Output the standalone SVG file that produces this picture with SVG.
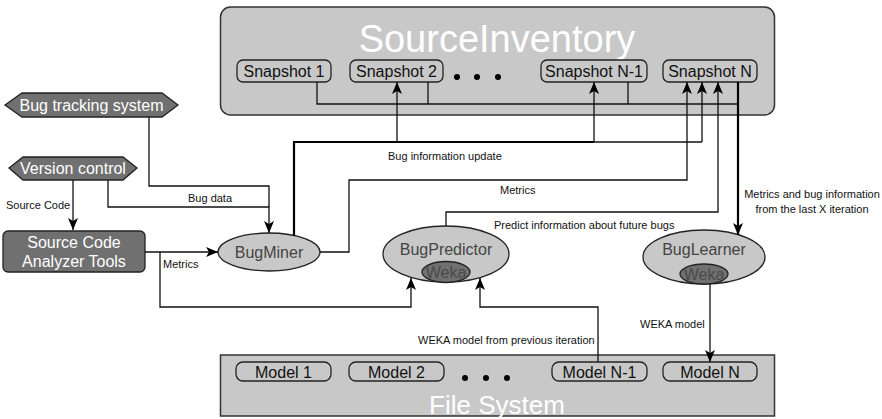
<svg xmlns="http://www.w3.org/2000/svg" width="882" height="419" viewBox="0 0 882 419">
<defs>
<marker id="arr" markerUnits="userSpaceOnUse" markerWidth="12" markerHeight="12" refX="12" refY="5" orient="auto" viewBox="0 0 12 10">
<path d="M0,0 L12,5 L0,10 L3,5 z" fill="#000"/>
</marker>
<style>
.container{fill:#c8c8c8;stroke:#333;stroke-width:1.5}
.item{fill:#c8c8c8;stroke:#222;stroke-width:1.3}
.itemtxt{font-family:"Liberation Sans",Arial,sans-serif;font-size:16px;fill:#111;text-anchor:middle}
.title{font-family:"Liberation Sans",Arial,sans-serif;fill:#fff;text-anchor:middle}
.dark{fill:#707070;stroke:#222;stroke-width:1.3}
.darktxt{font-family:"Liberation Sans",Arial,sans-serif;font-size:16px;fill:#fff;text-anchor:middle}
.ell{fill:#c8c8c8;stroke:#222;stroke-width:1.3}
.elltxt{font-family:"Liberation Sans",Arial,sans-serif;font-size:16px;fill:#444;text-anchor:middle}
.weka{fill:#707070;stroke:#222;stroke-width:1.3}
.wekatxt{font-family:"Liberation Sans",Arial,sans-serif;font-size:16px;fill:#4a4a4a;text-anchor:middle}
.c{fill:none;stroke:#111;stroke-width:1.3}
.thick{fill:none;stroke:#000;stroke-width:2.2}
.a{marker-end:url(#arr)}
.lbl{font-family:"Liberation Sans",Arial,sans-serif;font-size:11px;fill:#111}
</style>
</defs>

<g id="source-inventory">
<rect class="container" x="220.5" y="7" width="554" height="108" rx="10"/>
<text class="title" x="497" y="52" font-size="38">SourceInventory</text>
<circle cx="457" cy="77" r="3"/>
<circle cx="477" cy="77" r="3"/>
<circle cx="498" cy="77" r="3"/>
</g>
<g id="snapshot-1"><rect class="item" x="237" y="60" width="94" height="22" rx="6"/><text class="itemtxt" x="284" y="77">Snapshot 1</text></g>
<g id="snapshot-2"><rect class="item" x="350" y="60" width="93" height="22" rx="6"/><text class="itemtxt" x="396.5" y="77">Snapshot 2</text></g>
<g id="snapshot-n-1"><rect class="item" x="541" y="60" width="106" height="22" rx="6"/><text class="itemtxt" x="594" y="77">Snapshot N-1</text></g>
<g id="snapshot-n"><rect class="item" x="663" y="60" width="94" height="22" rx="6"/><text class="itemtxt" x="710" y="77">Snapshot N</text></g>

<g id="file-system">
<rect class="container" x="220.5" y="355" width="554" height="61"/>
<text class="title" x="497" y="414" font-size="26">File System</text>
<circle cx="465" cy="378" r="3"/>
<circle cx="486" cy="378" r="3"/>
<circle cx="507" cy="378" r="3"/>
</g>
<g id="model-1"><rect class="item" x="236" y="362" width="95" height="19" rx="7"/><text class="itemtxt" x="283.5" y="378">Model 1</text></g>
<g id="model-2"><rect class="item" x="349" y="362" width="95" height="19" rx="7"/><text class="itemtxt" x="396.5" y="378">Model 2</text></g>
<g id="model-n-1"><rect class="item" x="552" y="362" width="95" height="19" rx="7"/><text class="itemtxt" x="599.5" y="378">Model N-1</text></g>
<g id="model-n"><rect class="item" x="663" y="362" width="94" height="19" rx="7"/><text class="itemtxt" x="710" y="378">Model N</text></g>

<g id="bug-tracking-system">
<polygon class="dark" points="5,105 22,93 162,93 178,105 162,117 22,117"/>
<text class="darktxt" x="91.5" y="111">Bug tracking system</text>
</g>
<g id="version-control">
<polygon class="dark" points="9,168 23,157 123,157 137,168 123,180 23,180"/>
<text class="darktxt" x="73" y="174">Version control</text>
</g>
<g id="source-code-analyzer-tools">
<rect class="dark" x="3" y="231" width="142" height="41" rx="5"/>
<text class="darktxt" x="74" y="248">Source Code</text>
<text class="darktxt" x="74" y="267">Analyzer Tools</text>
</g>
<g id="bugminer">
<ellipse class="ell" cx="269" cy="252" rx="51" ry="19"/>
<text class="elltxt" x="269" y="258">BugMiner</text>
</g>
<g id="bugpredictor">
<ellipse class="ell" cx="446" cy="254" rx="63" ry="28"/>
<text class="elltxt" x="446" y="255">BugPredictor</text>
<ellipse class="weka" cx="446" cy="272" rx="24" ry="10.5"/>
<text class="wekatxt" x="446" y="278">Weka</text>
</g>
<g id="buglearner">
<ellipse class="ell" cx="704" cy="257" rx="61" ry="27"/>
<text class="elltxt" x="704" y="255">BugLearner</text>
<ellipse class="weka" cx="704" cy="274" rx="24" ry="10"/>
<text class="wekatxt" x="704" y="280">Weka</text>
</g>

<g id="connectors">
<path class="c a" d="M73,180 V230"/>
<path class="c a" d="M108,180 V207 H269 V233"/>
<path class="c" d="M149,117 V186 H269 V207"/>
<path class="c a" d="M145,252 H218"/>
<path class="c a" d="M160,252 V307 H411 V278"/>
<path class="thick" d="M294,236 V142 H594"/>
<path class="c" d="M594,142 H702"/>
<path class="c a" d="M397,142 V82"/>
<path class="c a" d="M594,142 V82"/>
<path class="c a" d="M702,142 V82"/>
<path class="c a" d="M320,252 H349 V180 H687 V82"/>
<path class="c a" d="M446,226 V212 H718 V82"/>
<path class="c" d="M317,82 V104 H738"/>
<path class="c" d="M428,82 V104"/>
<path class="c" d="M628,82 V104"/>
<path class="thick a" d="M738,82 V235"/>
<path class="c a" d="M710,284 V362"/>
<path class="c a" d="M598,362 V307 H480 V278"/>
</g>

<g id="labels">
<text class="lbl" x="6" y="209">Source Code</text>
<text class="lbl" x="188" y="202">Bug data</text>
<text class="lbl" x="163" y="268">Metrics</text>
<text class="lbl" x="388" y="160">Bug information update</text>
<text class="lbl" x="500" y="194">Metrics</text>
<text class="lbl" x="494" y="229">Predict information about future bugs</text>
<text class="lbl" x="812" y="198" text-anchor="middle">Metrics and bug information</text>
<text class="lbl" x="812" y="213" text-anchor="middle">from the last X iteration</text>
<text class="lbl" x="418" y="344">WEKA model from previous iteration</text>
<text class="lbl" x="640" y="328">WEKA model</text>
</g>
</svg>
